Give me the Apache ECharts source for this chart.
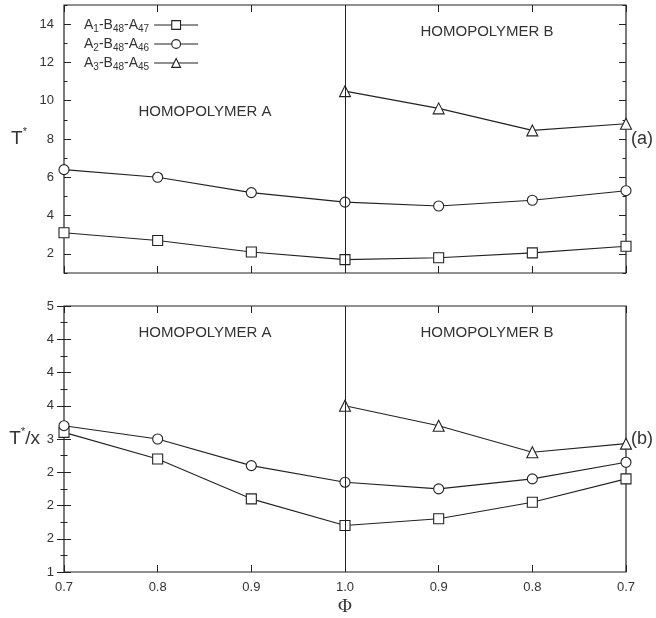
<!DOCTYPE html>
<html>
<head>
<meta charset="utf-8">
<script src="https://cdn.jsdelivr.net/npm/echarts@6/dist/echarts.min.js"></script>
<style>
  html, body { margin: 0; padding: 0; background: #fff; }
  #chart { width: 656px; height: 618px; }
</style>
</head>
<body>
<div id="chart"></div>
<script>
// x axis positions (folded Phi axis)
const phiLabels = ['0.7', '0.8', '0.9', '1.0', '0.9', '0.8', '0.7'];
const seriesNames = ['A1-B48-A47', 'A2-B48-A46', 'A3-B48-A45'];

// (a) T*
const topA1 = [3.1, 2.7, 2.1, 1.7, 1.8, 2.05, 2.4];
const topA2 = [6.4, 6.0, 5.2, 4.7, 4.5, 4.8, 5.3];
const topA3 = [null, null, null, 10.5, 9.6, 8.45, 8.8];

// (b) T*/x
const botA1 = [3.1, 2.7, 2.1, 1.7, 1.8, 2.05, 2.4];
const botA2 = [3.2, 3.0, 2.6, 2.35, 2.25, 2.4, 2.65];
const botA3 = [null, null, null, 3.5, 3.2, 2.8, 2.93];

// tick labels
const topTickValues = [2, 4, 6, 8, 10, 12, 14];
const botTickLabels = ['1', '2', '2', '2', '3', '4', '4', '4', '5'];

const ink = '#222';
const txt = '#333';
const font = 'Liberation Sans';
const tickFont = 13;
const symbols = ['rect', 'circle', 'triangle'];

const chart = echarts.init(document.getElementById('chart'));

const toPairs = (arr) => arr.map((v, i) => [i, v]).filter((d) => d[1] != null);

// x axis helper
const xAx = (grid, pos, labels) => ({
  type: 'value',
  gridIndex: grid,
  position: pos,
  min: 0,
  max: 6,
  interval: 1,
  axisLine: { show: false },
  splitLine: { show: false },
  axisTick: { show: true, inside: true, length: 7, lineStyle: { color: ink, width: 1 } },
  axisLabel: {
    show: labels,
    margin: 9,
    color: txt,
    fontFamily: font,
    fontSize: tickFont,
    formatter: (v) => phiLabels[Math.round(v)],
  },
});

const dataSeries = (arrs, xi, yi) =>
  arrs.map((arr, k) => ({
    name: seriesNames[k],
    type: 'line',
    xAxisIndex: xi,
    yAxisIndex: yi,
    data: toPairs(arr),
    symbol: symbols[k],
    symbolSize: k === 2 ? 11 : 10,
    showAllSymbol: true,
    z: 3,
    lineStyle: { color: ink, width: 1.1 },
    itemStyle: { color: '#fff', borderColor: ink, borderWidth: 1.1 },
  }));

const dividerSeries = (xi, yi) => ({
  type: 'line',
  xAxisIndex: xi,
  yAxisIndex: yi,
  data: [],
  z: 1,
  markLine: {
    silent: true,
    symbol: 'none',
    label: { show: false },
    lineStyle: { color: ink, width: 1, type: 'solid' },
    data: [{ xAxis: 3 }],
  },
});

const legendFmt = (name) => name.replace(/([AB])(\d+)/g, '$1{s|$2}');

const option = {
  animation: false,
  backgroundColor: '#fff',
  grid: [
    { left: 64, top: 5, width: 564, height: 268, show: true, borderColor: ink, borderWidth: 1.2 },
    { left: 64, top: 306, width: 564, height: 267, show: true, borderColor: ink, borderWidth: 1.2 },
  ],
  legend: {
    data: seriesNames,
    orient: 'vertical',
    left: 79,
    top: 11,
    align: 'right',
    itemWidth: 44,
    itemHeight: 11,
    itemGap: 1,
    formatter: legendFmt,
    lineStyle: { width: 1.1, color: ink },
    itemStyle: { color: '#fff', borderColor: ink, borderWidth: 1.1 },
    textStyle: {
      color: txt,
      fontFamily: font,
      fontSize: 14,
      lineHeight: 18,
      rich: {
        s: { fontSize: 10, lineHeight: 18, verticalAlign: 'bottom', fontFamily: font, color: txt },
      },
    },
  },
  xAxis: [
    xAx(0, 'bottom', false),
    xAx(0, 'top', false),
    Object.assign(xAx(1, 'bottom', true), {
      name: 'Φ',
      nameLocation: 'middle',
      nameGap: 26,
      nameTextStyle: { color: txt, fontFamily: 'Liberation Serif', fontSize: 19 },
    }),
    xAx(1, 'top', false),
  ],
  yAxis: [
    // top panel, left: minor ticks + labels
    {
      type: 'value', gridIndex: 0, position: 'left', min: 1, max: 15, interval: 1,
      axisLine: { show: false }, splitLine: { show: false },
      axisTick: { inside: true, length: 3.5, lineStyle: { color: ink } },
      axisLabel: { customValues: topTickValues, margin: 10, color: txt, fontFamily: font, fontSize: tickFont },
      name: 'T{sup|*}',
      nameLocation: 'middle',
      nameRotate: 0,
      nameGap: 37,
      nameTextStyle: {
        color: txt, fontFamily: font, fontSize: 19,
        rich: { sup: { fontSize: 11, verticalAlign: 'top', lineHeight: 26, color: txt, fontFamily: font } },
      },
    },
    // top panel, left: major ticks
    {
      type: 'value', gridIndex: 0, position: 'left', min: 1, max: 15,
      axisLine: { show: false }, splitLine: { show: false },
      axisTick: { inside: true, length: 7, customValues: topTickValues, lineStyle: { color: ink } },
      axisLabel: { show: false },
    },
    // top panel, right: minor ticks + (a)
    {
      type: 'value', gridIndex: 0, position: 'right', min: 1, max: 15, interval: 1,
      axisLine: { show: false }, splitLine: { show: false },
      axisTick: { inside: true, length: 3.5, lineStyle: { color: ink } },
      axisLabel: { show: false },
      name: '(a)',
      nameLocation: 'middle',
      nameRotate: 0,
      nameGap: 5,
      nameTextStyle: { color: txt, fontFamily: font, fontSize: 18, align: 'left' },
    },
    // top panel, right: major ticks
    {
      type: 'value', gridIndex: 0, position: 'right', min: 1, max: 15,
      axisLine: { show: false }, splitLine: { show: false },
      axisTick: { inside: true, length: 7, customValues: topTickValues, lineStyle: { color: ink } },
      axisLabel: { show: false },
    },
    // bottom panel, left
    {
      type: 'value', gridIndex: 1, position: 'left', min: 1, max: 5, interval: 0.5,
      axisLine: { show: false }, splitLine: { show: false },
      axisTick: { inside: true, length: 7, lineStyle: { color: ink } },
      minorTick: { show: true, splitNumber: 2, length: 3.5, lineStyle: { color: ink } },
      axisLabel: {
        margin: 10, color: txt, fontFamily: font, fontSize: tickFont,
        formatter: (v) => botTickLabels[Math.round((v - 1) / 0.5)],
      },
      name: 'T{sup|*}/x',
      nameLocation: 'middle',
      nameRotate: 0,
      nameGap: 24,
      nameTextStyle: {
        color: txt, fontFamily: font, fontSize: 19,
        rich: { sup: { fontSize: 11, verticalAlign: 'top', lineHeight: 26, color: txt, fontFamily: font } },
      },
    },
    // bottom panel, right
    {
      type: 'value', gridIndex: 1, position: 'right', min: 1, max: 5, interval: 0.5,
      axisLine: { show: false }, splitLine: { show: false },
      axisTick: { inside: true, length: 7, lineStyle: { color: ink } },
      minorTick: { show: true, splitNumber: 2, length: 3.5, lineStyle: { color: ink } },
      axisLabel: { show: false },
      name: '(b)',
      nameLocation: 'middle',
      nameRotate: 0,
      nameGap: 5,
      nameTextStyle: { color: txt, fontFamily: font, fontSize: 18, align: 'left' },
    },
  ],
  graphic: [
    { type: 'text', x: 205, y: 112, style: { text: 'HOMOPOLYMER A', fill: txt, font: '15px ' + font, textAlign: 'center', textVerticalAlign: 'middle' } },
    { type: 'text', x: 487, y: 32, style: { text: 'HOMOPOLYMER B', fill: txt, font: '15px ' + font, textAlign: 'center', textVerticalAlign: 'middle' } },
    { type: 'text', x: 205, y: 333, style: { text: 'HOMOPOLYMER A', fill: txt, font: '15px ' + font, textAlign: 'center', textVerticalAlign: 'middle' } },
    { type: 'text', x: 487, y: 333, style: { text: 'HOMOPOLYMER B', fill: txt, font: '15px ' + font, textAlign: 'center', textVerticalAlign: 'middle' } },
  ],
  series: [
    dividerSeries(0, 0),
    dividerSeries(2, 4),
    ...dataSeries([topA1, topA2, topA3], 0, 0),
    ...dataSeries([botA1, botA2, botA3], 2, 4),
  ],
};

chart.setOption(option);
</script>
</body>
</html>
